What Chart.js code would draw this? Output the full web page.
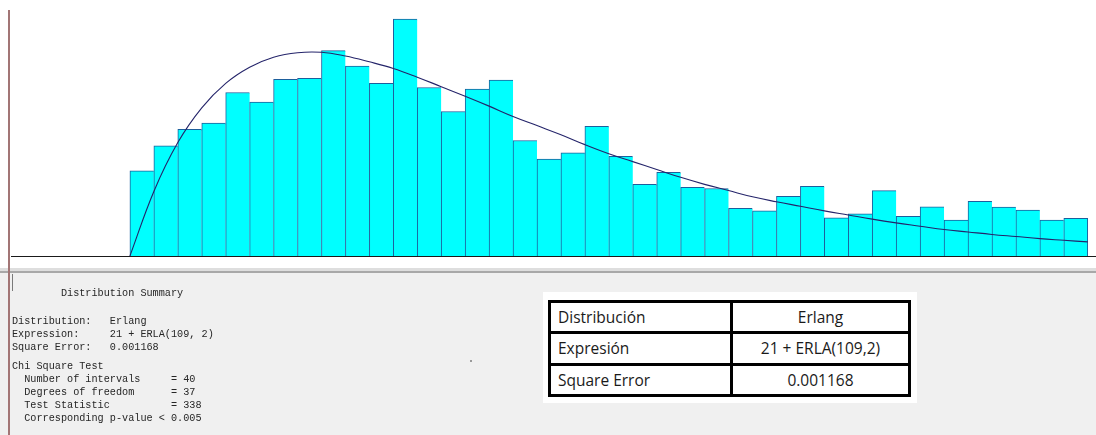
<!DOCTYPE html>
<html>
<head>
<meta charset="utf-8">
<script src="https://cdn.jsdelivr.net/npm/chart.js@4.4.1/dist/chart.umd.min.js"></script>
<style>
  html, body { margin: 0; padding: 0; }
  body { width: 1096px; height: 435px; position: relative; overflow: hidden; background: #ffffff; }
  #hist { position: absolute; left: 0; top: 0; }
  .abs { position: absolute; }
  #sepLight { left: 0; top: 268px; width: 1096px; height: 3px; background: #dedede; }
  #sepDark { left: 0; top: 271px; width: 1096px; height: 2px; background: #a8a8a8; }
  #panel { left: 0; top: 273px; width: 1096px; height: 162px; background: #f0f0f0; }
  #edge { left: 8px; top: 10px; width: 2px; height: 425px; background: #a27575; }
  #caret { left: 12px; top: 274px; width: 1px; height: 17px; background: #7a7a7a; }
  .mono { position: absolute; left: 12px; font-family: "Liberation Mono", "DejaVu Sans Mono", monospace;
          font-size: 10.2px; line-height: 13px; color: #262626; white-space: pre; }
  #dot { left: 470px; top: 360px; width: 2px; height: 2px; background: #9a9a9a; }
  #tableBack { left: 543px; top: 292px; width: 374px; height: 111px; background: #ffffff; }
  #summary { left: 548px; top: 300px; width: 363px; height: 97px; box-sizing: border-box;
             border: 3px solid #000; background: #000; display: grid;
             grid-template-columns: 179px 1fr; grid-template-rows: repeat(3, 1fr); gap: 3px; }
  #summary div { background: #fff; font-family: "Open Sans", sans-serif; font-size: 15.5px; color: #1a1a1a;
                 display: flex; align-items: center; }
  #summary .k { padding-left: 7px; }
  #summary .v { justify-content: center; }
</style>
</head>
<body>
<canvas id="hist" width="1096" height="260"></canvas>
<div class="abs" id="sepLight"></div>
<div class="abs" id="sepDark"></div>
<div class="abs" id="panel"></div>
<div class="abs" id="edge"></div>
<div class="abs" id="caret"></div>
<div class="abs" id="dot"></div>
<div id="report"></div>
<div class="abs" id="tableBack"></div>
<div class="abs" id="summary"></div>

<script>
// Histogram class boundaries (40 intervals starting at 21)
const binEdges = [21, 35.5, 50, 64.5, 79, 93.5, 108, 122.5, 137, 151.5, 166, 180.5, 195, 209.5,
  224, 238.5, 253, 267.5, 282, 296.5, 311, 325.5, 340, 354.5, 369, 383.5, 398, 412.5, 427,
  441.5, 456, 470.5, 485, 499.5, 514, 528.5, 543, 557.5, 572, 586.5, 601];

// Observed relative frequency of each interval
const relFreq = [0.0206, 0.0266, 0.0306, 0.0321, 0.0395, 0.0372, 0.0427, 0.0429, 0.0496, 0.0459,
  0.0417, 0.0572, 0.0407, 0.0349, 0.0403, 0.0425, 0.0279, 0.0234, 0.0249, 0.0313,
  0.0241, 0.0173, 0.0202, 0.0166, 0.0163, 0.0115, 0.0109, 0.0144, 0.0168, 0.0092,
  0.0102, 0.0158, 0.0096, 0.0119, 0.0087, 0.0132, 0.0118, 0.0111, 0.0087, 0.0091];

// Fitted Erlang curve, sampled at the interval boundaries
const fittedCurve = [0, 0.0156, 0.0274, 0.0358, 0.0417, 0.0456, 0.0480, 0.0491, 0.0492, 0.0483,
  0.0469, 0.0453, 0.0432, 0.0409, 0.0386, 0.0362, 0.0337, 0.0315, 0.0293, 0.0269,
  0.0247, 0.0228, 0.0209, 0.0190, 0.0173, 0.0158, 0.0143, 0.0131, 0.0120, 0.0109,
  0.0099, 0.0089, 0.0080, 0.0072, 0.0064, 0.0058, 0.0052, 0.0047, 0.0042, 0.0038, 0.0034];

// Text of the distribution report
const reportLines = [
  ["        Distribution Summary", 294],
  ["Distribution:   Erlang", 322],
  ["Expression:     21 + ERLA(109, 2)", 335],
  ["Square Error:   0.001168", 348],
  ["Chi Square Test", 367],
  ["  Number of intervals     = 40", 380],
  ["  Degrees of freedom      = 37", 393],
  ["  Test Statistic          = 338", 406],
  ["  Corresponding p-value < 0.005", 419]
];

// Summary table rows
const tableKeys = ["Distribución", "Expresión", "Square Error"];
const tableValues = ["Erlang", "21 + ERLA(109,2)", "0.001168"];

const report = document.getElementById('report');
reportLines.forEach(([text, y]) => {
  const d = document.createElement('div');
  d.className = 'mono';
  d.style.top = (y - 7) + 'px';
  d.textContent = text;
  report.appendChild(d);
});

const summary = document.getElementById('summary');
tableKeys.forEach((k, i) => {
  const a = document.createElement('div');
  a.className = 'k';
  a.textContent = k;
  const b = document.createElement('div');
  b.className = 'v';
  b.textContent = tableValues[i];
  summary.appendChild(a);
  summary.appendChild(b);
});

// Baseline along y = 0
const baselinePlugin = {
  id: 'baseline',
  afterDatasetsDraw(chart) {
    const { ctx, chartArea, scales } = chart;
    const y = Math.round(scales.y.getPixelForValue(0)) + 0.5;
    ctx.save();
    ctx.strokeStyle = '#1a1a1a';
    ctx.lineWidth = 1.2;
    ctx.beginPath();
    ctx.moveTo(chartArea.left, y);
    ctx.lineTo(chart.width, y);
    ctx.stroke();
    ctx.restore();
  }
};

const barData = relFreq.map((v, i) => ({ x: (binEdges[i] + binEdges[i + 1]) / 2, y: v }));
const curveData = fittedCurve.map((v, i) => ({ x: binEdges[i], y: v }));

new Chart(document.getElementById('hist'), {
  type: 'bar',
  data: {
    datasets: [
      {
        type: 'line',
        data: curveData,
        borderColor: '#24246a',
        borderWidth: 1.1,
        pointRadius: 0,
        tension: 0.4,
        fill: false,
        order: 0
      },
      {
        type: 'bar',
        data: barData,
        backgroundColor: '#00ffff',
        borderColor: '#1d5f9c',
        borderSkipped: false,
        borderWidth: (c) => ({ top: 1, left: 1, bottom: 0, right: c.dataIndex === relFreq.length - 1 ? 1 : 0 }),
        barPercentage: 1,
        categoryPercentage: 1,
        order: 1
      }
    ]
  },
  options: {
    responsive: false,
    animation: false,
    devicePixelRatio: 1,
    layout: { padding: { left: 11, right: 0, top: 8, bottom: 4 } },
    plugins: { legend: { display: false }, tooltip: { enabled: false } },
    scales: {
      x: { type: 'linear', min: -51, max: 606, offset: false, display: false },
      y: { min: 0, max: 0.0599, display: false }
    }
  },
  plugins: [baselinePlugin]
});
</script>
</body>
</html>
